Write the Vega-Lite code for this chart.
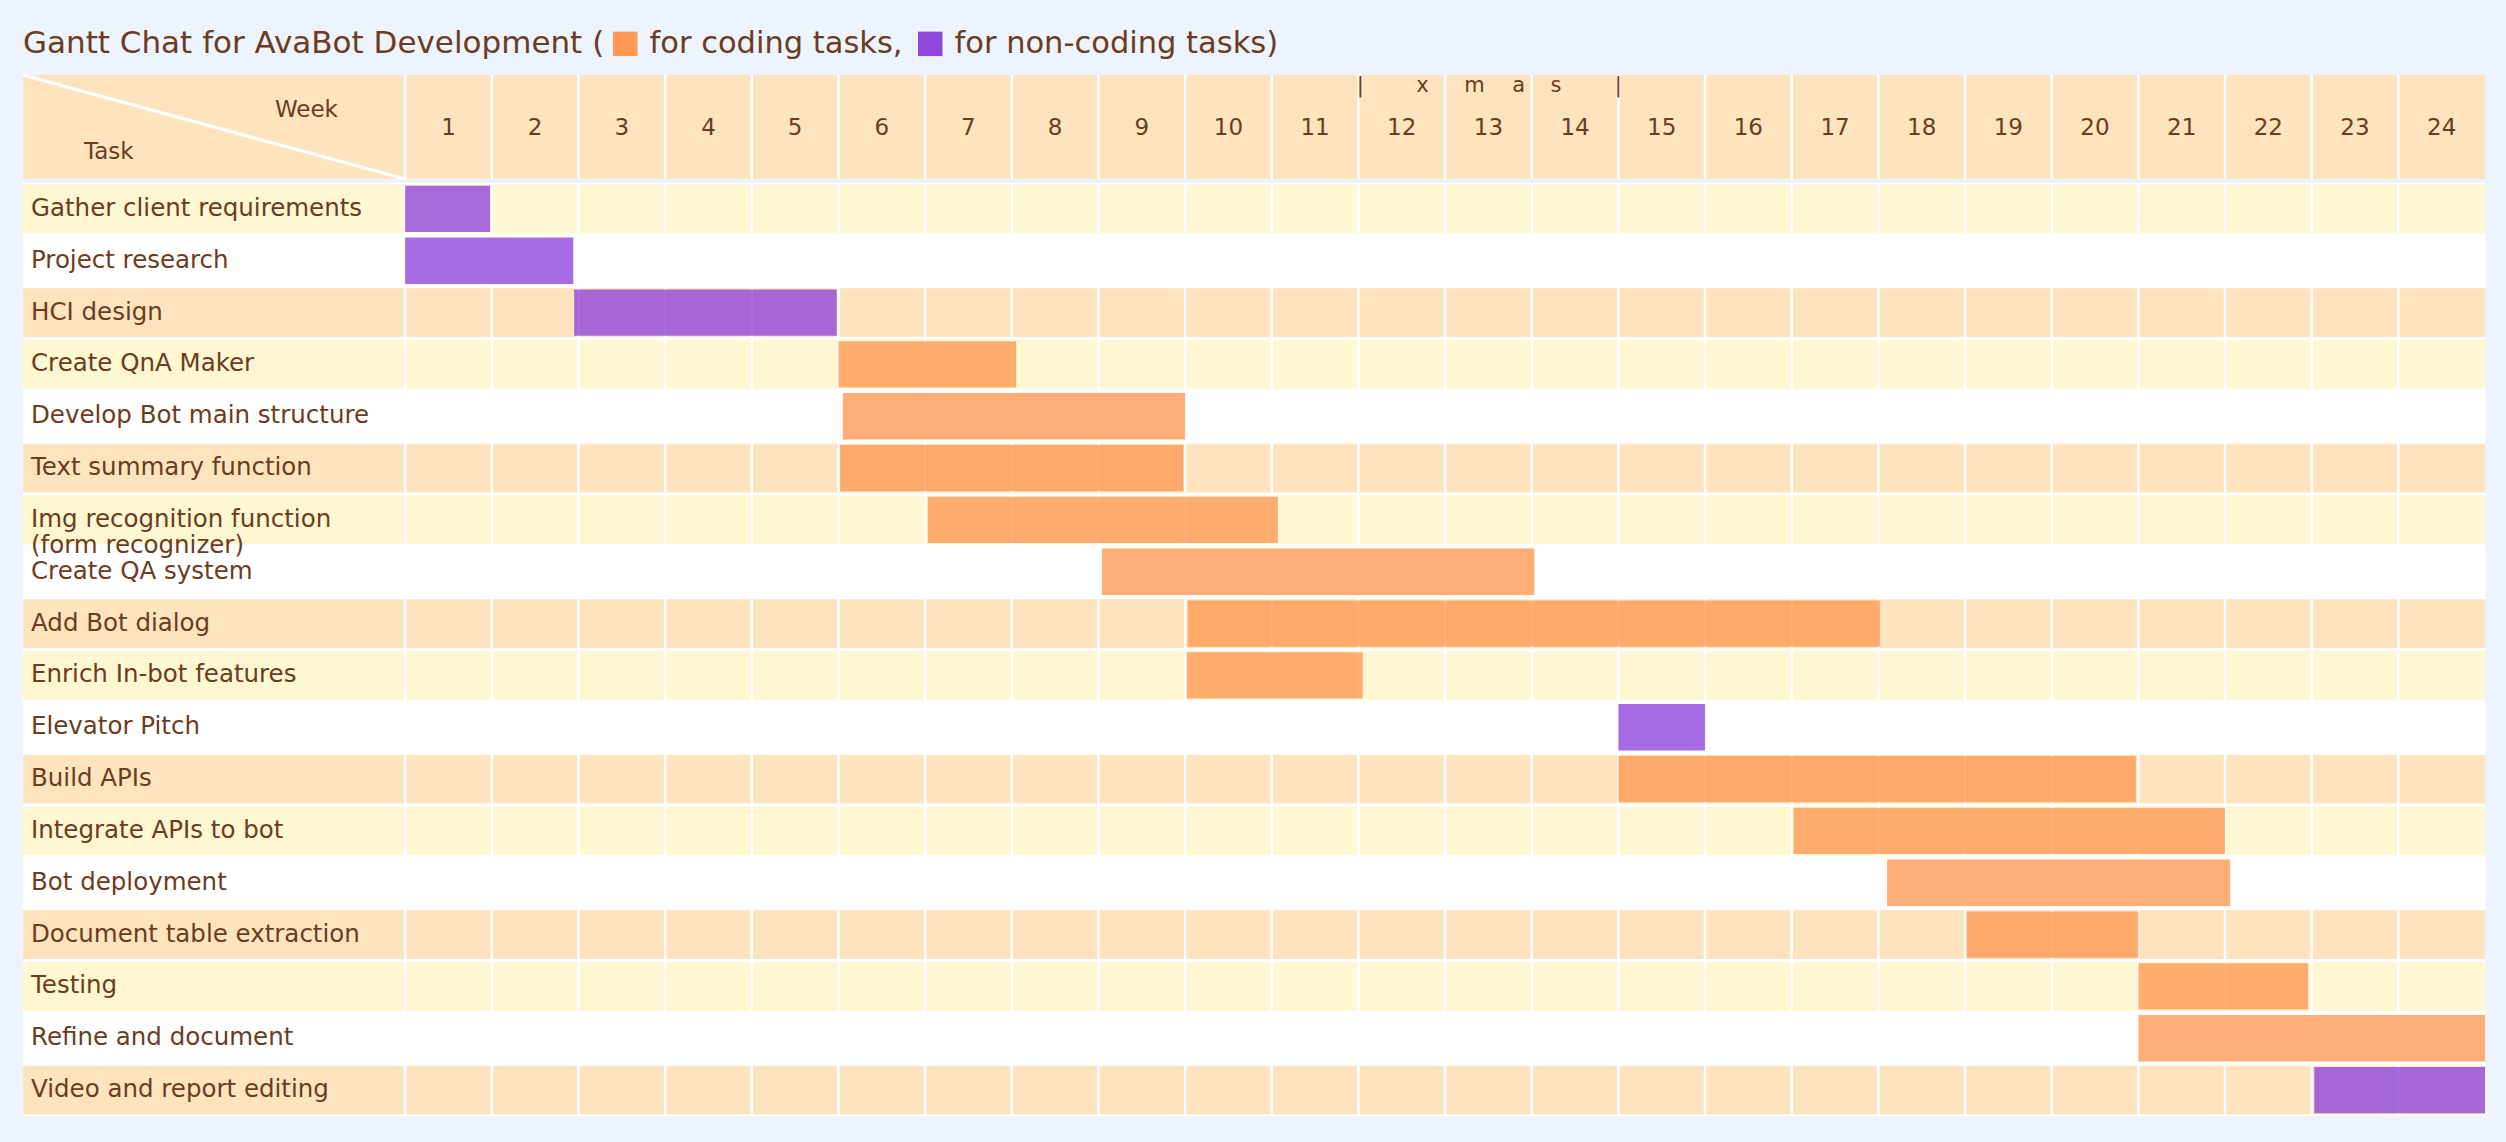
{
  "$schema": "https://vega.github.io/schema/vega-lite/v6.json",
  "background": "#EDF4FE",
  "padding": {"left": 21, "top": 28, "right": 23, "bottom": 30},
  "datasets": {
    "weeks": [
      {"week": 1, "start": 0}, {"week": 2, "start": 1}, {"week": 3, "start": 2}, {"week": 4, "start": 3},
      {"week": 5, "start": 4}, {"week": 6, "start": 5}, {"week": 7, "start": 6}, {"week": 8, "start": 7},
      {"week": 9, "start": 8}, {"week": 10, "start": 9}, {"week": 11, "start": 10}, {"week": 12, "start": 11},
      {"week": 13, "start": 12}, {"week": 14, "start": 13}, {"week": 15, "start": 14}, {"week": 16, "start": 15},
      {"week": 17, "start": 16}, {"week": 18, "start": 17}, {"week": 19, "start": 18}, {"week": 20, "start": 19},
      {"week": 21, "start": 20}, {"week": 22, "start": 21}, {"week": 23, "start": 22}, {"week": 24, "start": 23}
    ],
    "tasks": [
      {"task": "Gather client requirements", "start": 0, "end": 0.98, "type": "non-coding"},
      {"task": "Project research", "start": 0, "end": 1.94, "type": "non-coding"},
      {"task": "HCI design", "start": 1.95, "end": 4.98, "type": "non-coding"},
      {"task": "Create QnA Maker", "start": 5.0, "end": 7.05, "type": "coding"},
      {"task": "Develop Bot main structure", "start": 5.05, "end": 9.0, "type": "coding"},
      {"task": "Text summary function", "start": 5.02, "end": 8.98, "type": "coding"},
      {"task": "Img recognition function\n(form recognizer)", "start": 6.03, "end": 10.07, "type": "coding"},
      {"task": "Create QA system", "start": 8.04, "end": 13.03, "type": "coding"},
      {"task": "Add Bot dialog", "start": 9.03, "end": 17.02, "type": "coding"},
      {"task": "Enrich In-bot features", "start": 9.02, "end": 11.05, "type": "coding"},
      {"task": "Elevator Pitch", "start": 14.0, "end": 15.0, "type": "non-coding"},
      {"task": "Build APIs", "start": 14.0, "end": 19.97, "type": "coding"},
      {"task": "Integrate APIs to bot", "start": 16.02, "end": 21.0, "type": "coding"},
      {"task": "Bot deployment", "start": 17.1, "end": 21.06, "type": "coding"},
      {"task": "Document table extraction", "start": 18.02, "end": 20.0, "type": "coding"},
      {"task": "Testing", "start": 20.0, "end": 21.96, "type": "coding"},
      {"task": "Refine and document", "start": 20.0, "end": 24.0, "type": "coding"},
      {"task": "Video and report editing", "start": 22.03, "end": 24.0, "type": "non-coding"}
    ]
  },
  "spacing": 0,
  "resolve": {"scale": {"x": "independent", "y": "independent"}},
  "vconcat": [
    {
      "width": 2462,
      "height": 104,
      "view": {"fill": "#FEE4BE", "stroke": null},
      "layer": [
        {
          "data": {"name": "weeks"},
          "mark": {"type": "rule", "color": "#FFFFFF", "strokeWidth": 2.5},
          "encoding": {
            "x": {"field": "start", "type": "quantitative", "scale": {"domain": [-4.41, 24], "nice": false, "zero": false}, "axis": null}
          }
        },
        {
          "data": {"values": [{}]},
          "mark": {"type": "rule", "color": "#FFFFFF", "strokeWidth": 3},
          "encoding": {
            "x": {"datum": -4.41, "type": "quantitative", "axis": null},
            "x2": {"datum": 0},
            "y": {"datum": 1, "type": "quantitative", "scale": {"domain": [0, 1], "nice": false, "zero": false}, "axis": null},
            "y2": {"datum": 0}
          }
        },
        {
          "data": {"name": "weeks"},
          "mark": {"type": "text", "font": "DejaVu Sans", "fontSize": 23, "fill": "#6B3C1E", "align": "center", "baseline": "middle", "dx": 43.3},
          "encoding": {
            "x": {"field": "start", "type": "quantitative", "axis": null},
            "y": {"datum": 0.49, "type": "quantitative", "axis": null},
            "text": {"field": "week", "type": "nominal"}
          }
        },
        {
          "data": {"values": [{}]},
          "mark": {"type": "text", "text": "Week", "font": "DejaVu Sans", "fontSize": 23, "fill": "#6B3C1E", "align": "center", "baseline": "middle"},
          "encoding": {"x": {"datum": -1.14, "type": "quantitative", "axis": null}, "y": {"datum": 0.668, "type": "quantitative", "axis": null}}
        },
        {
          "data": {"values": [{}]},
          "mark": {"type": "text", "text": "Task", "font": "DejaVu Sans", "fontSize": 23, "fill": "#6B3C1E", "align": "center", "baseline": "middle"},
          "encoding": {"x": {"datum": -3.42, "type": "quantitative", "axis": null}, "y": {"datum": 0.255, "type": "quantitative", "axis": null}}
        },
        {
          "data": {"values": [{}]},
          "mark": {"type": "text", "text": "|", "font": "DejaVu Sans", "fontSize": 21, "fill": "#6B3C1E", "align": "center", "baseline": "alphabetic"},
          "encoding": {"x": {"datum": 11.02, "type": "quantitative", "axis": null}, "y": {"datum": 0.84, "type": "quantitative", "axis": null}}
        },
        {
          "data": {"values": [{}]},
          "mark": {"type": "text", "text": "x", "font": "DejaVu Sans", "fontSize": 21, "fill": "#6B3C1E", "align": "center", "baseline": "alphabetic"},
          "encoding": {"x": {"datum": 11.74, "type": "quantitative", "axis": null}, "y": {"datum": 0.84, "type": "quantitative", "axis": null}}
        },
        {
          "data": {"values": [{}]},
          "mark": {"type": "text", "text": "m", "font": "DejaVu Sans", "fontSize": 21, "fill": "#6B3C1E", "align": "center", "baseline": "alphabetic"},
          "encoding": {"x": {"datum": 12.34, "type": "quantitative", "axis": null}, "y": {"datum": 0.84, "type": "quantitative", "axis": null}}
        },
        {
          "data": {"values": [{}]},
          "mark": {"type": "text", "text": "a", "font": "DejaVu Sans", "fontSize": 21, "fill": "#6B3C1E", "align": "center", "baseline": "alphabetic"},
          "encoding": {"x": {"datum": 12.85, "type": "quantitative", "axis": null}, "y": {"datum": 0.84, "type": "quantitative", "axis": null}}
        },
        {
          "data": {"values": [{}]},
          "mark": {"type": "text", "text": "s", "font": "DejaVu Sans", "fontSize": 21, "fill": "#6B3C1E", "align": "center", "baseline": "alphabetic"},
          "encoding": {"x": {"datum": 13.28, "type": "quantitative", "axis": null}, "y": {"datum": 0.84, "type": "quantitative", "axis": null}}
        },
        {
          "data": {"values": [{}]},
          "mark": {"type": "text", "text": "|", "font": "DejaVu Sans", "fontSize": 21, "fill": "#6B3C1E", "align": "center", "baseline": "alphabetic"},
          "encoding": {"x": {"datum": 14.0, "type": "quantitative", "axis": null}, "y": {"datum": 0.84, "type": "quantitative", "axis": null}}
        }
      ]
    },
    {
      "width": 2462,
      "height": 933,
      "view": {"fill": "#FFFFFF", "stroke": null},
      "layer": [
        {
          "data": {"name": "tasks"},
          "transform": [{"window": [{"op": "row_number", "as": "rn"}]}],
          "mark": {"type": "rect"},
          "encoding": {
            "x": {"datum": -4.41, "type": "quantitative", "scale": {"domain": [-4.41, 24], "nice": false, "zero": false}, "axis": null},
            "x2": {"datum": 24},
            "y": {"field": "task", "type": "nominal", "sort": null, "scale": {"paddingInner": 0.06, "paddingOuter": 0.03}, "axis": null},
            "fill": {"condition": [{"test": "datum.rn % 3 == 1", "value": "#FFF6D2"}, {"test": "datum.rn % 3 == 0", "value": "#FEE4BE"}], "value": "#FFFFFF"}
          }
        },
        {
          "data": {"name": "weeks"},
          "mark": {"type": "rule", "color": "#FFFFFF", "strokeWidth": 2.5},
          "encoding": {
            "x": {"field": "start", "type": "quantitative", "axis": null}
          }
        },
        {
          "data": {"name": "tasks"},
          "mark": {"type": "bar", "height": {"band": 0.95}, "opacity": 0.8},
          "encoding": {
            "x": {"field": "start", "type": "quantitative", "axis": null},
            "x2": {"field": "end"},
            "y": {"field": "task", "type": "nominal", "sort": null, "axis": null},
            "color": {
              "field": "type", "type": "nominal",
              "scale": {"domain": ["coding", "non-coding"], "range": ["#FF9A55", "#9146DC"]},
              "legend": {
                "orient": "none", "legendX": 0, "legendY": -46.5, "direction": "horizontal",
                "title": "Gantt Chat for AvaBot Development (",
                "titleOrient": "left", "titleAnchor": "middle", "titleBaseline": "middle", "titlePadding": 5,
                "titleFont": "DejaVu Sans", "titleFontSize": 31, "titleFontWeight": "normal", "titleColor": "#6B3C1E", "titleLimit": 2000,
                "symbolType": "square", "symbolSize": 600, "symbolOpacity": 1, "symbolStrokeWidth": 0,
                "labelFont": "DejaVu Sans", "labelFontSize": 30.5, "labelColor": "#6B3C1E", "labelOffset": 9,
                "columnPadding": 12, "labelLimit": 2000, "padding": 0,
                "labelExpr": "datum.label == 'coding' ? 'for coding tasks,' : 'for non-coding tasks)'"
              }
            }
          }
        },
        {
          "data": {"name": "tasks"},
          "mark": {"type": "text", "font": "DejaVu Sans", "fontSize": 24.5, "fill": "#6B3C1E", "align": "left", "baseline": "middle", "dx": 8, "lineBreak": "\n", "lineHeight": 26},
          "encoding": {
            "x": {"datum": -4.41, "type": "quantitative", "axis": null},
            "y": {"field": "task", "type": "nominal", "sort": null, "axis": null},
            "text": {"field": "task", "type": "nominal"}
          }
        }
      ]
    }
  ],
  "config": {"view": {"stroke": null}}
}
